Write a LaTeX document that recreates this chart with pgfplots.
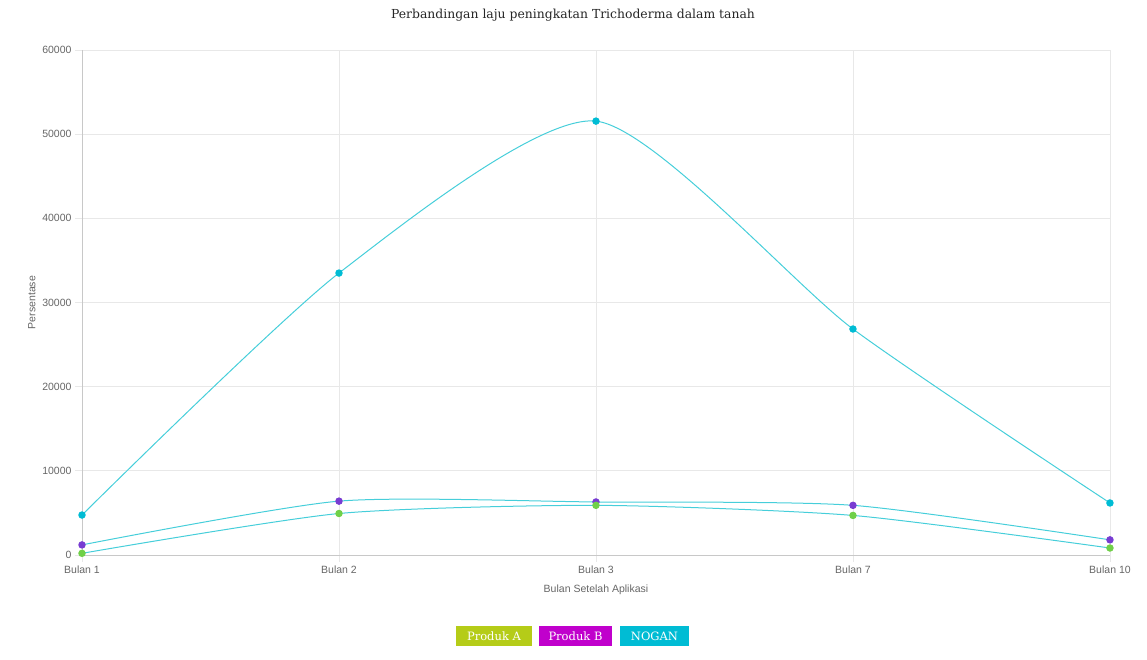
\documentclass[border=0pt]{standalone}
\usepackage{pgfplots}
\pgfplotsset{compat=1.18}
\usetikzlibrary{calc}
\usepackage{fontspec}
\setmainfont{Liberation Sans}
\newfontfamily\slab{DejaVu Serif}
\definecolor{linec}{RGB}{70,206,218}
\definecolor{gridc}{RGB}{232,232,232}
\definecolor{axisc}{RGB}{200,200,200}
\definecolor{tickc}{RGB}{102,102,102}
\definecolor{mA}{RGB}{112,208,72}
\definecolor{mB}{RGB}{120,60,210}
\definecolor{mN}{RGB}{0,188,212}
\definecolor{legA}{RGB}{181,204,24}
\definecolor{legB}{RGB}{192,0,204}
\definecolor{legN}{RGB}{0,188,212}
\begin{document}
\begin{tikzpicture}
\begin{axis}[
  name=ax,
  scale only axis, width=1028pt, height=505pt,
  xmin=0, xmax=4, ymin=0, ymax=60000,
  xtick={0,1,2,3,4},
  xticklabels={Bulan 1,Bulan 2,Bulan 3,Bulan 7,Bulan 10},
  ytick={0,10000,20000,30000,40000,50000,60000},
  scaled y ticks=false,
  /pgf/number format/1000 sep={},
  /pgf/number format/assume math mode=true,
  grid=major,
  grid style={color=gridc, line width=0.7pt},
  axis lines*=left,
  axis line style={-, color=axisc, line width=0.8pt},
  tick align=outside,
  major tick length=7pt,
  tick style={color=gridc, line width=0.7pt},
  ticklabel style={font=\fontsize{10.5}{12}\selectfont, text=tickc},
  xlabel={Bulan Setelah Aplikasi},
  ylabel={Persentase},
  label style={font=\fontsize{10.5}{12}\selectfont, text=tickc},
  xlabel style={yshift=-5pt},
  clip=false,
]
\addplot[color=linec, line width=1pt, smooth, tension=0.4, mark=*, mark size=3.2pt,
  mark options={fill=mN, draw=mN}] coordinates {
  (0,4750) (1,33500) (2,51550) (3,26850) (4,6180)};
\addplot[color=linec, line width=1pt, smooth, tension=0.4, mark=*, mark size=3.2pt,
  mark options={fill=mB, draw=mB}] coordinates {
  (0,1200) (1,6400) (2,6300) (3,5900) (4,1800)};
\addplot[color=linec, line width=1pt, smooth, tension=0.4, mark=*, mark size=3.2pt,
  mark options={fill=mA, draw=mA}] coordinates {
  (0,200) (1,4930) (2,5900) (3,4700) (4,830)};
\end{axis}
\path (ax.south west) ++(-82pt,-105pt) coordinate (O);
\path (O) rectangle ++(1147pt,660pt);
\node[font=\slab\fontsize{12.4}{14}\selectfont, text=black!85] at ($(O)+(573pt,645pt)$) {Perbandingan laju peningkatan Trichoderma dalam tanah};
\node[fill=legA, text=white, font=\slab\fontsize{11.5}{13}\selectfont, minimum width=76pt, minimum height=20pt, inner sep=0pt] at ($(O)+(494pt,24pt)$) {Produk A};
\node[fill=legB, text=white, font=\slab\fontsize{11.5}{13}\selectfont, minimum width=73pt, minimum height=20pt, inner sep=0pt] at ($(O)+(575.5pt,24pt)$) {Produk B};
\node[fill=legN, text=white, font=\slab\fontsize{11.5}{13}\selectfont, minimum width=69pt, minimum height=20pt, inner sep=0pt] at ($(O)+(654.5pt,24pt)$) {NOGAN};
\end{tikzpicture}
\end{document}
